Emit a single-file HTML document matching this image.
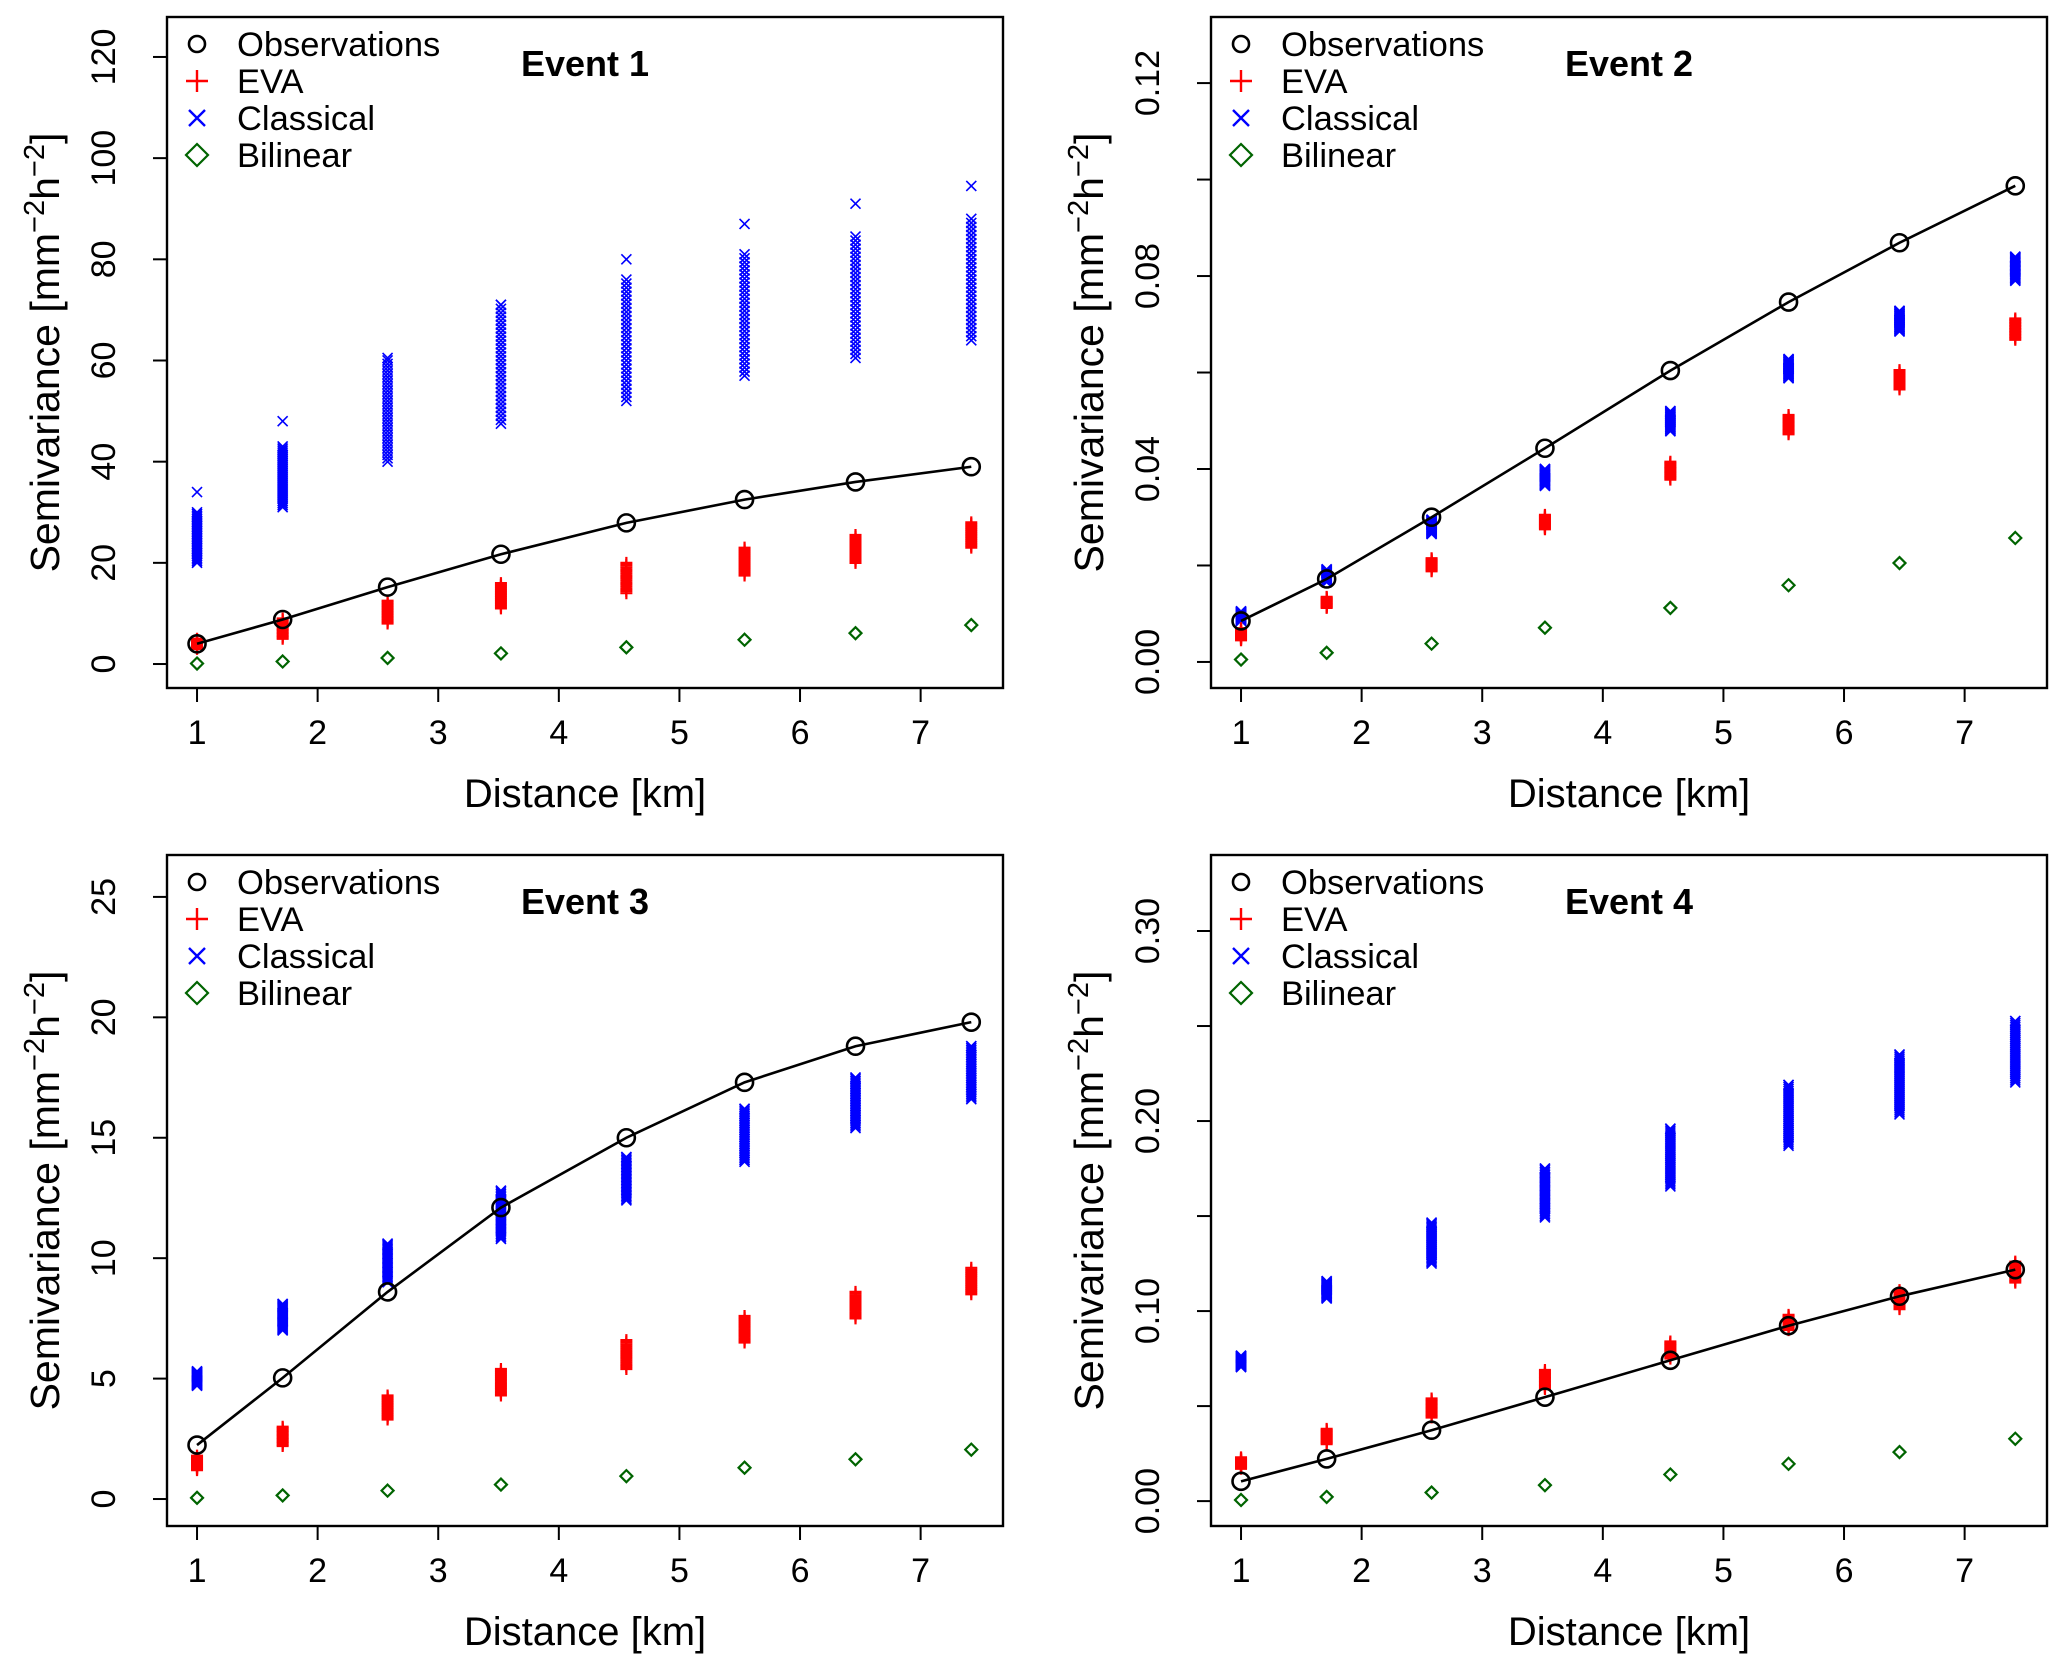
<!DOCTYPE html>
<html><head><meta charset="utf-8"><style>
html,body{margin:0;padding:0;background:#fff;}
svg{display:block;font-family:"Liberation Sans",sans-serif;}
</style></head><body>
<svg id="fig" width="2067" height="1668" viewBox="0 0 2067 1668" xmlns="http://www.w3.org/2000/svg"></svg>
<script>
const distances = [1, 1.71, 2.58, 3.52, 4.56, 5.54, 6.46, 7.42];
const xTicks = [1,2,3,4,5,6,7];

const e1Obs = [4, 8.8, 15.2, 21.7, 27.9, 32.5, 36, 39];
const e1EvaLo = [3, 5, 8, 11, 14, 17.5, 20, 23];
const e1EvaHi = [5, 9, 12.5, 16, 20, 23, 25.5, 28];
const e1ClsLo = [20, 31, 40, 47.5, 52, 57, 60.5, 64];
const e1ClsHi = [30, 43, 60, 71, 76, 81, 84.5, 88];
const e1ClsTop = [34, 48, 60.5, 71, 80, 87, 91, 94.5];
const e1Bil = [0.1, 0.5, 1.2, 2.1, 3.3, 4.8, 6.1, 7.7];
const e1Ticks = [0,20,40,60,80,100,120];
const e1Labels = ["0","20","40","60","80","100","120"];

const e2Obs = [0.0085, 0.0172, 0.030, 0.0443, 0.0604, 0.0746, 0.0869, 0.0987];
const e2EvaLo = [0.0045, 0.0112, 0.0188, 0.0275, 0.0378, 0.0472, 0.0565, 0.0668];
const e2EvaHi = [0.0070, 0.0135, 0.0215, 0.0305, 0.0415, 0.0512, 0.0605, 0.0712];
const e2ClsLo = [0.0085, 0.0165, 0.0265, 0.0365, 0.0478, 0.0588, 0.0685, 0.0790];
const e2ClsHi = [0.0105, 0.0192, 0.0295, 0.0400, 0.0520, 0.0628, 0.0728, 0.0840];
const e2ClsTop = [0.0105, 0.0192, 0.0295, 0.0400, 0.0520, 0.0628, 0.0728, 0.0840];
const e2Bil = [0.0005, 0.0019, 0.0038, 0.0071, 0.0112, 0.0159, 0.0205, 0.0257];
const e2Ticks = [0,0.02,0.04,0.06,0.08,0.10,0.12];
const e2Labels = ["0.00","","0.04","","0.08","","0.12"];

const e3Obs = [2.24, 5.03, 8.6, 12.1, 15.0, 17.3, 18.8, 19.8];
const e3EvaLo = [1.2, 2.2, 3.3, 4.3, 5.4, 6.5, 7.5, 8.5];
const e3EvaHi = [1.8, 3.0, 4.3, 5.4, 6.6, 7.6, 8.6, 9.6];
const e3ClsLo = [4.7, 7.0, 9.0, 10.8, 12.4, 14.0, 15.4, 16.6];
const e3ClsHi = [5.3, 8.1, 10.6, 12.8, 14.2, 16.2, 17.5, 18.8];
const e3ClsTop = [5.3, 8.1, 10.6, 12.8, 14.2, 16.2, 17.5, 18.8];
const e3Bil = [0.05, 0.15, 0.35, 0.6, 0.95, 1.3, 1.65, 2.05];
const e3Ticks = [0,5,10,15,20,25];
const e3Labels = ["0","5","10","15","20","25"];

const e4Obs = [0.0104, 0.0222, 0.0373, 0.0547, 0.0741, 0.0923, 0.1078, 0.1218];
const e4EvaLo = [0.017, 0.030, 0.044, 0.059, 0.075, 0.090, 0.101, 0.115];
const e4EvaHi = [0.023, 0.038, 0.054, 0.069, 0.084, 0.098, 0.111, 0.126];
const e4ClsLo = [0.0705, 0.1066, 0.125, 0.1493, 0.1656, 0.187, 0.2035, 0.2203];
const e4ClsHi = [0.0765, 0.1157, 0.1465, 0.175, 0.196, 0.219, 0.235, 0.2526];
const e4ClsTop = [0.0765, 0.1157, 0.1465, 0.175, 0.196, 0.219, 0.235, 0.2526];
const e4Bil = [0.0006, 0.0022, 0.0045, 0.0084, 0.014, 0.0196, 0.0258, 0.0328];
const e4Ticks = [0,0.05,0.10,0.15,0.20,0.25,0.30];
const e4Labels = ["0.00","","0.10","","0.20","","0.30"];

const NS = "http://www.w3.org/2000/svg";
const svg = document.getElementById('fig');
function mk(tag, attrs, parent){
  const e = document.createElementNS(NS, tag);
  for (const k in attrs) e.setAttribute(k, attrs[k]);
  (parent||svg).appendChild(e);
  return e;
}
function circ(g,x,y,r){ const e=mk('circle',{cx:x,cy:y,r:r,fill:'none',stroke:'#000','stroke-width':2.6},g);
  
   return e;}
function plus(g,x,y,s,c,w){ const e=mk('path',{d:`M${x-s},${y}H${x+s}M${x},${y-s}V${y+s}`,stroke:c,'stroke-width':w,fill:'none'},g);
  
   return e;}
function cross(g,x,y,s,c,w){ const e=mk('path',{d:`M${x-s},${y-s}L${x+s},${y+s}M${x-s},${y+s}L${x+s},${y-s}`,stroke:c,'stroke-width':w,fill:'none'},g);
  
   return e;}
function diam(g,x,y,s){ const e=mk('path',{d:`M${x},${y-s}L${x+s},${y}L${x},${y+s}L${x-s},${y}Z`,stroke:'#006400','stroke-width':2.2,fill:'none'},g);
  
   return e;}

function panel(idx, L, T, ymin, ymax, d){
  const W = 836, H = 671, R = L+W, B = T+H;
  const xmin = 0.751, xmax = 7.683;
  const X = v => L + (v - xmin)/(xmax - xmin)*W;
  const Y = v => B - (v - ymin)/(ymax - ymin)*H;
  const g = mk('g',{});
  
  

  xTicks.forEach(t=>{
    const tk = mk('line',{x1:X(t),x2:X(t),y1:B,y2:B+14,stroke:'#000','stroke-width':2},g);
    
    
    const tl = mk('text',{x:X(t),y:B+56,'font-size':34,'text-anchor':'middle'},g);
    tl.textContent = t;
    
    
  });
  d.ticks.forEach((t,i)=>{
    const tk = mk('line',{x1:L-14,x2:L,y1:Y(t),y2:Y(t),stroke:'#000','stroke-width':2},g);
    
    
    if (d.labels[i]) {
      const tl = mk('text',{x:L-52,y:Y(t),'font-size':34,'text-anchor':'middle',transform:`rotate(-90 ${L-52} ${Y(t)})`},g);
      tl.textContent = d.labels[i];
      
      
    }
  });
  const xt = mk('text',{x:(L+R)/2,y:B+119,'font-size':40,'text-anchor':'middle'},g);
  xt.textContent = 'Distance [km]';
  
  
  const yx = L-108, yy = (T+B)/2;
  const yt = mk('text',{x:yx,y:yy,'font-size':41,'text-anchor':'middle',transform:`rotate(-90 ${yx} ${yy})`},g);
  
  
  yt.innerHTML = 'Semivariance [mm<tspan font-size="29" dy="-15">\u22122</tspan><tspan dy="15">h</tspan><tspan font-size="29" dy="-15">\u22122</tspan><tspan dy="15">]</tspan>';

  distances.forEach((x,i)=>diam(g,X(x),Y(d.bil[i]),6));
  distances.forEach((x,i)=>{
    const n = 30;
    for (let k=0;k<=n;k++){
      const v = d.clsLo[i] + (d.clsHi[i]-d.clsLo[i])*k/n;
      cross(g,X(x),Y(v),5,'#0000ff',1.6);
    }
    cross(g,X(x),Y(d.clsTop[i]),5,'#0000ff',1.6);
  });
  distances.forEach((x,i)=>{
    const n = 14;
    for (let k=0;k<=n;k++){
      const v = d.evaLo[i] + (d.evaHi[i]-d.evaLo[i])*k/n;
      plus(g,X(x),Y(v),6,'#ff0000',2.2);
    }
    const r = mk('rect',{x:X(x)-5,y:Y(d.evaHi[i])+4,width:10,height:Math.max(0,Y(d.evaLo[i])-Y(d.evaHi[i])-8),fill:'#ff0000'},g);
    
    
  });
  const pts = distances.map((x,i)=>`${X(x)},${Y(d.obs[i])}`).join(' ');
  const pl = mk('polyline',{points:pts,fill:'none',stroke:'#000','stroke-width':2.6},g);
  
  
  distances.forEach((x,i)=>circ(g,X(x),Y(d.obs[i]),8.5));

  const bx = mk('rect',{x:L,y:T,width:W,height:H,fill:'none',stroke:'#000','stroke-width':2.4},g);
  
  

  const lg = mk('g',{},g);
  
  
  const names = ['Observations','EVA','Classical','Bilinear'];
  names.forEach((nm,j)=>{
    const cy = T+27+j*37, sx = L+30;
    if (j==0) circ(lg,sx,cy,8);
    if (j==1) plus(lg,sx,cy,11,'#ff0000',2.4);
    if (j==2) cross(lg,sx,cy,8,'#0000ff',2.4);
    if (j==3) diam(lg,sx,cy,11);
    const tx = mk('text',{x:L+70,y:cy+12,'font-size':34.5},lg);
    tx.textContent = nm;
    
    
  });
  const ti = mk('text',{x:L+418,y:T+59,'font-size':36,'font-weight':'bold','text-anchor':'middle'},g);
  ti.textContent = 'Event '+idx;
  
  
}

panel(1,167,17,-4.74,127.9,{obs:e1Obs,evaLo:e1EvaLo,evaHi:e1EvaHi,clsLo:e1ClsLo,clsHi:e1ClsHi,clsTop:e1ClsTop,bil:e1Bil,ticks:e1Ticks,labels:e1Labels});
panel(2,1211,17,-0.0054,0.1337,{obs:e2Obs,evaLo:e2EvaLo,evaHi:e2EvaHi,clsLo:e2ClsLo,clsHi:e2ClsHi,clsTop:e2ClsTop,bil:e2Bil,ticks:e2Ticks,labels:e2Labels});
panel(3,167,855,-1.12,26.74,{obs:e3Obs,evaLo:e3EvaLo,evaHi:e3EvaHi,clsLo:e3ClsLo,clsHi:e3ClsHi,clsTop:e3ClsTop,bil:e3Bil,ticks:e3Ticks,labels:e3Labels});
panel(4,1211,855,-0.0131,0.34,{obs:e4Obs,evaLo:e4EvaLo,evaHi:e4EvaHi,clsLo:e4ClsLo,clsHi:e4ClsHi,clsTop:e4ClsTop,bil:e4Bil,ticks:e4Ticks,labels:e4Labels});
</script>
</body></html>
